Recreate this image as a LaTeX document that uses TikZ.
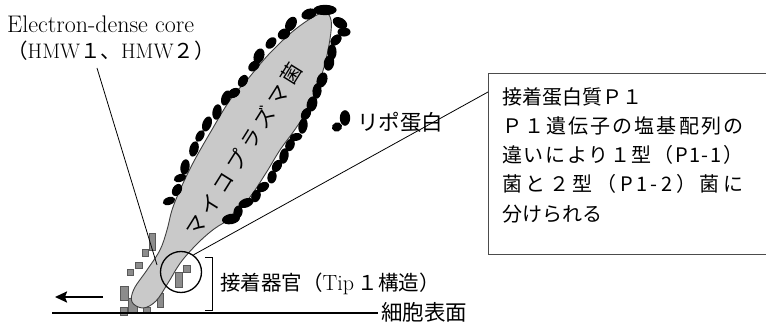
\documentclass[tikz,border=0pt]{standalone}
\usepackage{fontspec}
\usetikzlibrary{arrows.meta}
\newfontfamily\jp{Noto Sans CJK JP}
\newcommand\jpsz{\jp\fontsize{20.5}{24}\selectfont}
\newcommand\lmsz{\normalfont\fontsize{21}{24}\selectfont}
% set a run of characters evenly spread over a given width
\newcommand\spreadto[2]{\makebox[#1][s]{\spreadstep#2\relax}}
\def\spreadstep#1{\ifx\relax#1\unskip\else#1\hspace{0pt plus 1fil}\expandafter\spreadstep\fi}
\begin{document}
\begin{tikzpicture}[x=1pt,y=-1pt,
  lead/.style={draw=black,line width=0.8pt},
  jtext/.style={font=\jpsz,inner sep=0pt},
  blob/.style={fill=black},
  sq/.style={fill=black!45,draw=black!65,line width=0.6pt},
  cellbody/.style={fill=black!21,draw=black!75,line width=0.9pt},
  ring/.style={circle,draw=black,line width=1.3pt,minimum size=41pt,inner sep=0pt},
  panel/.style={draw=black!70,line width=0.9pt,minimum width=300pt,minimum height=181pt,inner sep=0pt}]
\useasboundingbox (0,0) rectangle (766,328);

% adhesion particles around the attachment tip
\foreach \a/\b/\c/\d in {149/233/155/250, 142/249/148/256, 135/262/142/268,
    127/269/133/275, 120/286/128/300, 128/298/137/312, 120/307/127/315,
    143/307/150/313, 157/293/163/307, 175/272/182/287, 183/265/190/272}
  \filldraw[sq] (\a,\b) rectangle (\c,\d);

% mycoplasma cell body with its tip
\draw[cellbody] plot[smooth cycle,tension=0.6] coordinates {
  (322,13) (331,20) (329,45) (321,77) (307,110) (296,128) (280,150)
  (266,173) (250,197) (232,217) (214,229) (198,243) (181,262) (168,283)
  (156,301) (143,308) (132,302) (134,289) (147,270) (160,250) (167,230)
  (172,210) (180,190) (193,163) (210,133) (230,100) (247,80) (270,53) (297,28)};

% lipoproteins on the surface
\foreach \x/\y/\r/\rx/\ry in {
  325/10/0/9/4, 309/14/20/6/4, 291/24/60/6/4, 284/34/30/5/4, 271/43/50/5/3.5,
  259/56/70/6/4, 254/66/40/5/3.5, 243/81/60/5/3.5, 234/93/30/5/3.5,
  226/98/70/6/3.5, 217/112/80/6/3.5, 207/124/70/6/3.5, 200/136/60/5/3,
  194/149/75/6/3.5, 185/167/80/6/3.5, 180/178/20/5/3, 177/190/60/5/3.5,
  169/201/20/5/3,
  340/23/-30/6/4, 344/32/0/5/3.5, 336/40/45/5/3.5, 332/52/90/6/3.5,
  329/63/80/6/4, 322/80/70/6/4, 317/91/85/6/3.5, 312/104/75/6/4,
  306/114/60/5/3.5, 303/126/80/6/3.5, 296/137/10/5/3, 290/145/70/5/3.5,
  284/156/80/6/3.5, 277/166/60/5/3.5, 272/177/80/5/3.5, 263/187/30/5/3.5,
  256/196/70/5/3.5, 246/203/20/6/3.5, 238/212/80/5/3.5, 231/219/10/7/4,
  345/118/90/6/4, 337/127/20/4/3.5}
  \fill[blob,shift={(\x,\y)},rotate=\r] (0,0) ellipse [x radius=1.3*\rx,y radius=1.3*\ry];

% cell name along the long axis
\node (myco) [jtext,rotate=58] at (244,150) {\spreadto{200pt}{マイコプラズマ菌}};

% attachment organelle
\node (tip) [ring] at (181,272) {};
\draw[lead] (205,257) -- (212,257) -- (212,310) -- (205,310);
\node (organ) [jtext,anchor=west] at (220,284)
  {接着器官（{\normalfont\fontsize{22}{24}\selectfont Tip}\,１構造）};

% electron-dense core label
\node (core) [inner sep=0pt,anchor=base west,font=\normalfont\fontsize{24}{28}\selectfont]
  at (7,33) {Electron-dense core};
\node (hmw) [inner sep=0pt,anchor=base west] at (7,59)
  {{\jpsz （}{\lmsz HMW}{\jpsz １、}{\lmsz HMW}{\jpsz ２）}};
\coordinate (coreFrom) at (97,68);
\coordinate (coreTo) at (157,265);
\draw[lead] (coreFrom) -- (coreTo);

% lipoprotein label
\node (lipo) [jtext,anchor=west,font=\jp\fontsize{21.5}{24}\selectfont] at (357,122) {リポ蛋白};

% P1 adhesin description
\node (box) [panel,anchor=north west] at (488,73) {};
\node (boxtxt) [jtext,anchor=north west,align=left,font=\jp\fontsize{20}{29.3}\selectfont] at (502,87)
  {接着蛋白質Ｐ１\\
   \spreadto{241pt}{Ｐ１遺伝子の塩基配列の}\\
   \spreadto{241pt}{違いにより１型（P1-1）}\\
   \spreadto{241pt}{菌と２型（P1-2）菌に}\\
   分けられる};
\coordinate (boxIn) at (488,92);
\draw[lead] (tip.54) -- (boxIn);

% cell surface and gliding direction
\coordinate (surfL) at (52,313);
\coordinate (surfR) at (378,313);
\draw[line width=1.3pt] (surfL) -- (surfR);
\node (surface) [jtext,anchor=west,font=\jp\fontsize{21.5}{24}\selectfont] at (381,312) {細胞表面};
\coordinate (moveFrom) at (103,297);
\coordinate (moveTo) at (55,297);
\draw[line width=2.2pt,-{Stealth[length=12pt,width=11pt,inset=2pt]}] (moveFrom) -- (moveTo);
\end{tikzpicture}
\end{document}
